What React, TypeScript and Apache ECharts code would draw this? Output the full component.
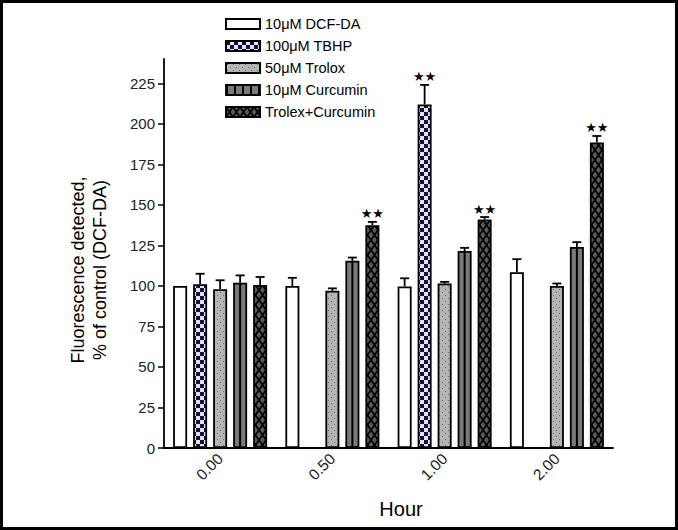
import React, { useEffect, useRef } from "react";
import * as echarts from "echarts";

const categories = ["0.00", "0.50", "1.00", "2.00"];
const seriesNames = ["10μM DCF-DA", "100μM TBHP", "50μM Trolox", "10μM Curcumin", "Trolex+Curcumin"];

const dcfda = [100, 100, 99.7, 108.5];
const dcfdaErr = [0, 5, 5, 8];
const tbhp: (number | null)[] = [101, null, 212, null];
const tbhpErr: (number | null)[] = [6.5, null, 12, null];
const trolox = [98, 97, 101.5, 100];
const troloxErr = [5.5, 1.5, 1, 1.5];
const curcumin = [102, 115.5, 121.5, 124];
const curcuminErr = [4.5, 2, 2, 3];
const combined = [100.5, 137.5, 141, 188.5];
const combinedErr = [5, 2, 1.5, 4];
const tbhpStars = [false, false, true, false];
const combinedStars = [false, true, true, true];

const yTicks = [0, 25, 50, 75, 100, 125, 150, 175, 200, 225];

function makePattern(w: number, h: number, draw: (ctx: CanvasRenderingContext2D) => void) {
  const c = document.createElement("canvas");
  c.width = w;
  c.height = h;
  const ctx = c.getContext("2d")!;
  draw(ctx);
  return c.toDataURL();
}

export default function App() {
  const ref = useRef<HTMLDivElement>(null);
  useEffect(() => {
    document.body.style.margin = "0";
    const chart = echarts.init(ref.current!, null, { renderer: "svg" });

    const checker = makePattern(8, 8, (ctx) => {
      ctx.fillStyle = "#e2e2f4";
      ctx.fillRect(0, 0, 8, 8);
      ctx.fillStyle = "#12123a";
      ctx.fillRect(0, 0, 4, 4);
      ctx.fillRect(4, 4, 4, 4);
    });
    const dots = makePattern(6, 6, (ctx) => {
      ctx.fillStyle = "#b4b4b4";
      ctx.fillRect(0, 0, 6, 6);
      ctx.fillStyle = "#6a6a6a";
      ctx.fillRect(1, 1, 1, 1);
      ctx.fillRect(4, 4, 1, 1);
    });
    const cross = makePattern(7, 10, (ctx) => {
      ctx.fillStyle = "#5a5a5a";
      ctx.fillRect(0, 0, 7, 10);
      ctx.strokeStyle = "#000";
      ctx.lineWidth = 1.8;
      ctx.beginPath();
      ctx.moveTo(-0.7, -1);
      ctx.lineTo(7.7, 11);
      ctx.moveTo(7.7, -1);
      ctx.lineTo(-0.7, 11);
      ctx.stroke();
    });
    const stripes = makePattern(8, 8, (ctx) => {
      ctx.fillStyle = "#7a7a7a";
      ctx.fillRect(0, 0, 8, 8);
      ctx.fillStyle = "#000";
      ctx.fillRect(0, 0, 2, 8);
    });

    const colors: any[] = [
      "#ffffff",
      { image: checker, repeat: "repeat" },
      { image: dots, repeat: "repeat" },
      "#7a7a7a",
      { image: cross, repeat: "repeat" },
    ];
    const values = [dcfda, tbhp, trolox, curcumin, combined];
    const errs = [dcfdaErr, tbhpErr, troloxErr, curcuminErr, combinedErr];
    const none = [false, false, false, false];
    const stars = [none, tbhpStars, none, none, combinedStars];

    const errData: any[] = [];
    values.forEach((arr, si) => {
      arr.forEach((v, ci) => {
        if (v == null) return;
        errData.push([ci, v, errs[si][ci] ?? 0, si, stars[si][ci] ? 1 : 0]);
      });
    });

    const barSeries = values.map((arr, i) => ({
      name: seriesNames[i],
      type: "bar",
      data: arr.map((v) => (v == null ? "-" : v)),
      barWidth: 14,
      barGap: "42.86%",
      itemStyle: { color: colors[i], borderColor: "#000", borderWidth: 1.8 },
      z: 2,
    }));

    const option: any = {
      animation: false,
      backgroundColor: "#fff",
      textStyle: { fontFamily: "Liberation Sans, Arial, sans-serif" },
      grid: { left: 164, right: 65, top: 59, bottom: 82, containLabel: false },
      legend: {
        orient: "vertical",
        left: 220,
        top: 11,
        itemWidth: 34,
        itemHeight: 10,
        itemGap: 6,
        icon: "rect",
        textStyle: { fontSize: 14.5, color: "#000", lineHeight: 16, fontFamily: "Liberation Sans, Arial, sans-serif" },
        data: seriesNames.map((n, i) =>
          i === 3
            ? { name: n, itemStyle: { color: { image: stripes, repeat: "repeat" }, borderColor: "#000", borderWidth: 1.8 } }
            : { name: n }
        ),
      },
      xAxis: {
        type: "category",
        data: categories,
        axisLine: { lineStyle: { color: "#000", width: 1.8 } },
        axisTick: { show: false },
        axisLabel: { rotate: 45, fontSize: 15.5, color: "#222", margin: 8 },
      },
      yAxis: {
        type: "value",
        min: 0,
        max: 240,
        interval: 25,
        axisLine: { show: true, lineStyle: { color: "#000", width: 1.8 } },
        axisTick: { show: true, length: 6, customValues: yTicks, lineStyle: { color: "#000", width: 1.5 } },
        axisLabel: { fontSize: 15, color: "#222", margin: 9, customValues: yTicks },
        splitLine: { show: false },
      },
      graphic: [
        {
          type: "text",
          x: 89,
          y: 270,
          rotation: Math.PI / 2,
          style: {
            text: "Fluorescence detected,\n% of control (DCF-DA)",
            fontSize: 18,
            lineHeight: 22,
            fill: "#000",
            align: "center",
            verticalAlign: "middle",
            fontFamily: "Liberation Sans, Arial, sans-serif",
          },
        },
        {
          type: "text",
          x: 401,
          y: 509,
          style: {
            text: "Hour",
            fontSize: 20,
            fill: "#000",
            align: "center",
            verticalAlign: "middle",
            fontFamily: "Liberation Sans, Arial, sans-serif",
          },
        },
        {
          type: "rect",
          shape: { x: 1.5, y: 1.5, width: 675, height: 527 },
          style: { fill: "none", stroke: "#000", lineWidth: 3 },
          z: 100,
        },
      ],
      series: [
        ...barSeries,
        {
          type: "custom",
          name: "errors",
          data: errData,
          encode: { x: 0, y: 1 },
          z: 5,
          renderItem: (params: any, api: any) => {
            const ci = api.value(0);
            const v = api.value(1);
            const e = api.value(2);
            const si = api.value(3);
            const star = api.value(4);
            const off = (si - 2) * 20;
            const base = api.coord([ci, 0]);
            const top = api.coord([ci, v]);
            const etop = api.coord([ci, v + e]);
            const x = top[0] + off;
            const children: any[] = [];
            if (si === 3) {
              children.push({
                type: "line",
                shape: { x1: x, y1: base[1], x2: x, y2: top[1] },
                style: { stroke: "#000", lineWidth: 2 },
              });
            }
            if (e > 0) {
              children.push({
                type: "line",
                shape: { x1: x, y1: top[1], x2: x, y2: etop[1] },
                style: { stroke: "#000", lineWidth: 1.8 },
              });
              children.push({
                type: "line",
                shape: { x1: x - 4.5, y1: etop[1], x2: x + 4.5, y2: etop[1] },
                style: { stroke: "#000", lineWidth: 1.8 },
              });
            }
            if (star) {
              children.push({
                type: "text",
                x: x,
                y: etop[1] - 8,
                style: {
                  text: "★★",
                  fontSize: 13,
                  fill: "#000",
                  align: "center",
                  verticalAlign: "middle",
                  fontFamily: "DejaVu Sans, sans-serif",
                },
              });
            }
            return { type: "group", children };
          },
        },
      ],
    };
    chart.setOption(option);
    return () => chart.dispose();
  }, []);
  return <div ref={ref} style={{ width: 678, height: 530 }} />;
}
